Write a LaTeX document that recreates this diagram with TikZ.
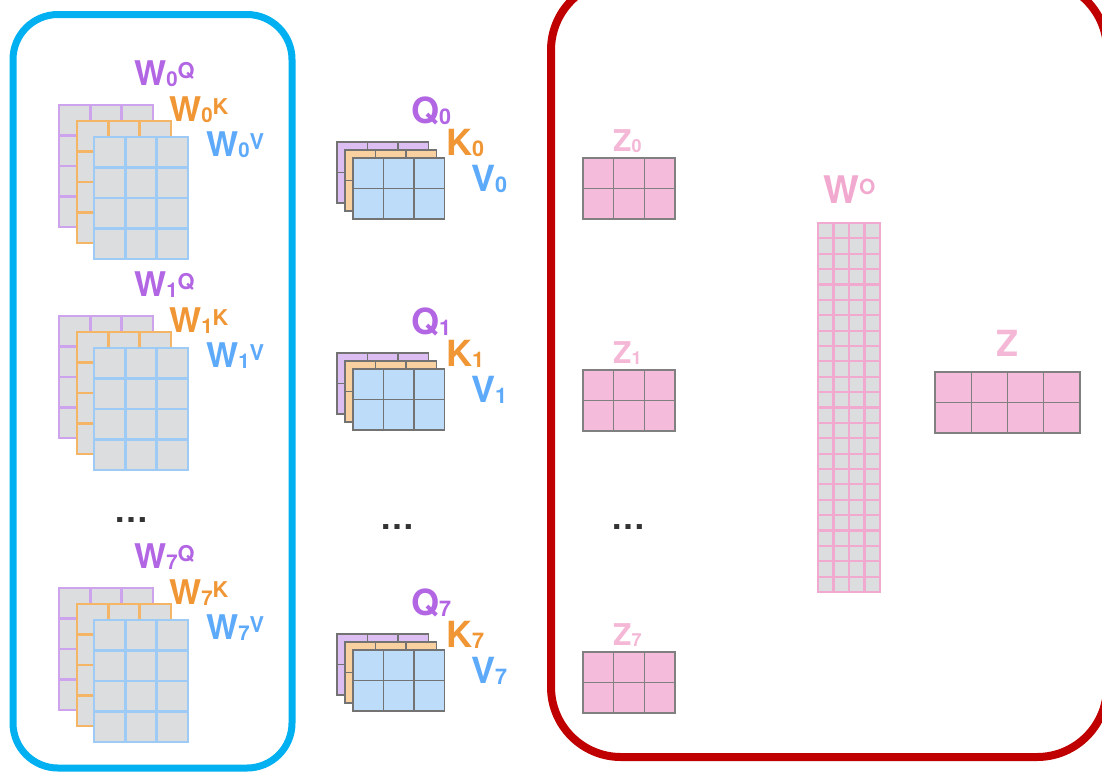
\documentclass[tikz,border=0pt]{standalone}
\usepackage{fontspec}
\setmainfont{TeX Gyre Heros}
\usepackage{graphicx}

\definecolor{txtQ}{HTML}{B266E3}
\definecolor{txtK}{HTML}{F09634}
\definecolor{txtV}{HTML}{5EAAFA}
\definecolor{lineQ}{HTML}{CDA3EE}
\definecolor{lineK}{HTML}{F5B567}
\definecolor{lineV}{HTML}{9DCBF5}
\definecolor{cellgray}{HTML}{DCDDDF}
\definecolor{fillQ}{HTML}{DCBEF2}
\definecolor{fillK}{HTML}{F9D0A0}
\definecolor{fillV}{HTML}{BCDCF9}
\definecolor{fillZ}{HTML}{F4BCDA}
\definecolor{txtZ}{HTML}{F4B8D6}
\definecolor{lineWO}{HTML}{F2A9CF}
\definecolor{frameblue}{HTML}{00B0F0}
\definecolor{framered}{HTML}{C00000}

% small index and exponent of a label
\newcommand{\lsub}[1]{\raisebox{-0.04em}{\scalebox{0.6}{#1}}}
\newcommand{\lsup}[1]{\raisebox{0.19em}{\scalebox{0.64}{#1}}}

% one matrix: x, y, cols, rows, cell width, cell height, style
\newcommand{\cellgrid}[7]{%
  \draw[#7] (#1,#2) rectangle ++({#3*#5},{#4*#6});
  \foreach \c in {0,...,#3}
    \draw[#7,fill=none] ({#1+\c*#5},#2) -- ++(0,{#4*#6});
  \foreach \r in {0,...,#4}
    \draw[#7,fill=none] (#1,{#2+\r*#6}) -- ++({#3*#5},0);
}

\tikzset{
  lbl/.style={inner sep=0pt, anchor=base west, font=\bfseries\fontsize{34}{34}\selectfont},
  qkv/.style={lbl, font=\bfseries\fontsize{36}{36}\selectfont},
  zlbl/.style={lbl, text=txtZ, font=\bfseries\fontsize{30}{30}\selectfont},
  dots/.style={inner sep=0pt, text=black!80, font=\bfseries\fontsize{34}{34}\selectfont},
  wQ/.style={draw=lineQ, fill=cellgray, line width=2.7},
  wK/.style={draw=lineK, fill=cellgray, line width=2.7},
  wV/.style={draw=lineV, fill=cellgray, line width=2.7},
  mQ/.style={draw=black!55, fill=fillQ, line width=1.3},
  mK/.style={draw=black!55, fill=fillK, line width=1.3},
  mV/.style={draw=black!55, fill=fillV, line width=1.3},
  mZ/.style={draw=black!50, fill=fillZ, line width=1.3},
  mWO/.style={draw=lineWO, fill=cellgray, line width=2.1},
}

\begin{document}
\begin{tikzpicture}[x=1pt, y=-1pt]
	\useasboundingbox (0,0) rectangle (1102,772);
	\fill[white] (0,0) rectangle (1102,772);
	\clip (0,0) rectangle (1102,772);

	% frames
	\draw[frameblue, line width=7, rounded corners=45] (13,14.5) rectangle (292,768);
	\draw[framered, line width=8, rounded corners=70] (551,-20) rectangle (1107,757);

	% weight matrices, heads 0, 1 and 7
	\cellgrid{59}{105}{3}{4}{31.3}{30.5}{wQ}
	\cellgrid{77}{121}{3}{4}{31.3}{30.5}{wK}
	\cellgrid{94}{137}{3}{4}{31.3}{30.5}{wV}
	\node[lbl, text=txtQ] (wq0) at (134,85) {W\lsub{0}\lsup{Q}};
	\node[lbl, text=txtK] (wk0) at (169,121) {W\lsub{0}\lsup{K}};
	\node[lbl, text=txtV] (wv0) at (206,156) {W\lsub{0}\lsup{V}};

	\cellgrid{59}{316}{3}{4}{31.3}{30.5}{wQ}
	\cellgrid{77}{332}{3}{4}{31.3}{30.5}{wK}
	\cellgrid{94}{348}{3}{4}{31.3}{30.5}{wV}
	\node[lbl, text=txtQ] (wq1) at (134,296) {W\lsub{1}\lsup{Q}};
	\node[lbl, text=txtK] (wk1) at (169,332) {W\lsub{1}\lsup{K}};
	\node[lbl, text=txtV] (wv1) at (206,367) {W\lsub{1}\lsup{V}};

	\node[dots] (wdots) at (131,520) {…};

	\cellgrid{59}{588}{3}{4}{31.3}{30.5}{wQ}
	\cellgrid{77}{604}{3}{4}{31.3}{30.5}{wK}
	\cellgrid{94}{620}{3}{4}{31.3}{30.5}{wV}
	\node[lbl, text=txtQ] (wq7) at (134,568) {W\lsub{7}\lsup{Q}};
	\node[lbl, text=txtK] (wk7) at (169,604) {W\lsub{7}\lsup{K}};
	\node[lbl, text=txtV] (wv7) at (206,639) {W\lsub{7}\lsup{V}};

	% queries, keys, values
	\cellgrid{337}{142}{3}{2}{30.5}{30.5}{mQ}
	\cellgrid{345}{150}{3}{2}{30.5}{30.5}{mK}
	\cellgrid{353}{158}{3}{2}{30.5}{30.5}{mV}
	\node[qkv, text=txtQ] (q0) at (411,123) {Q\lsub{0}};
	\node[qkv, text=txtK] (k0) at (446,155) {K\lsub{0}};
	\node[qkv, text=txtV] (v0) at (471,191) {V\lsub{0}};

	\cellgrid{337}{353}{3}{2}{30.5}{30.5}{mQ}
	\cellgrid{345}{361}{3}{2}{30.5}{30.5}{mK}
	\cellgrid{353}{369}{3}{2}{30.5}{30.5}{mV}
	\node[qkv, text=txtQ] (q1) at (411,334) {Q\lsub{1}};
	\node[qkv, text=txtK] (k1) at (446,366) {K\lsub{1}};
	\node[qkv, text=txtV] (v1) at (471,402) {V\lsub{1}};

	\node[dots] (qdots) at (397,527) {…};

	\cellgrid{337}{634}{3}{2}{30.5}{30.5}{mQ}
	\cellgrid{345}{642}{3}{2}{30.5}{30.5}{mK}
	\cellgrid{353}{650}{3}{2}{30.5}{30.5}{mV}
	\node[qkv, text=txtQ] (q7) at (411,615) {Q\lsub{7}};
	\node[qkv, text=txtK] (k7) at (446,647) {K\lsub{7}};
	\node[qkv, text=txtV] (v7) at (471,683) {V\lsub{7}};

	% head outputs
	\cellgrid{583}{158}{3}{2}{30.7}{30.5}{mZ}
	\node[zlbl] (z0) at (613,151) {Z\lsub{0}};
	\cellgrid{583}{370}{3}{2}{30.7}{30.5}{mZ}
	\node[zlbl] (z1) at (613,363) {Z\lsub{1}};
	\node[dots] (zdots) at (628,527) {…};
	\cellgrid{583}{652}{3}{2}{30.7}{30.5}{mZ}
	\node[zlbl] (z7) at (613,645) {Z\lsub{7}};

	% output projection and result
	\cellgrid{818}{223}{4}{24}{15.5}{15.375}{mWO}
	\node[lbl, text=lineWO, font=\bfseries\fontsize{38}{38}\selectfont] (wo) at (823,203) {W\raisebox{0.22em}{\scalebox{0.55}{O}}};
	\cellgrid{935}{372}{4}{2}{36.25}{30.5}{mZ}
	\node[lbl, text=txtZ, font=\bfseries\fontsize{36}{36}\selectfont] (z) at (996,356) {Z};
\end{tikzpicture}
\end{document}
